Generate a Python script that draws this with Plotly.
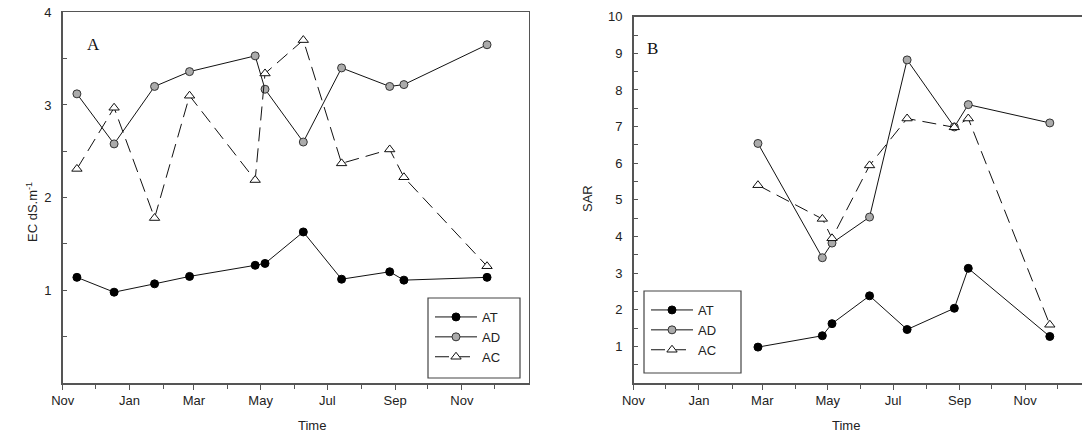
import plotly.graph_objects as go

W, H = 1082, 445

# ---------------- data ----------------
dates_a = ["2009-11-14", "2009-12-18", "2010-01-24", "2010-02-25", "2010-04-26", "2010-05-05",
           "2010-06-09", "2010-07-14", "2010-08-27", "2010-09-09", "2010-11-24"]
ec_at = [1.14, 0.98, 1.07, 1.15, 1.27, 1.29, 1.63, 1.12, 1.20, 1.11, 1.14]
ec_ad = [3.12, 2.58, 3.20, 3.36, 3.53, 3.17, 2.60, 3.40, 3.20, 3.22, 3.65]
ec_ac = [2.31, 2.97, 1.78, 3.10, 2.19, 3.34, 3.70, 2.37, 2.52, 2.22, 1.26]

dates_b = ["2010-02-25", "2010-04-26", "2010-05-05", "2010-06-09", "2010-07-14", "2010-08-27",
           "2010-09-09", "2010-11-24"]
sar_at = [0.98, 1.29, 1.62, 2.38, 1.46, 2.04, 3.13, 1.27]
sar_ad = [6.54, 3.42, 3.82, 4.53, 8.82, 6.99, 7.60, 7.10]
sar_ac = [5.40, 4.48, 3.95, 5.94, 7.22, 6.98, 7.22, 1.59]

series_names = ["AT", "AD", "AC"]
month_ticks = ["2009-11-01", "2010-01-01", "2010-03-01", "2010-05-01", "2010-07-01",
               "2010-09-01", "2010-11-01"]
month_labels = ["Nov", "Jan", "Mar", "May", "Jul", "Sep", "Nov"]
minor_month_ticks = ["2009-12-01", "2010-02-01", "2010-04-01", "2010-06-01", "2010-08-01",
                     "2010-10-01", "2010-12-01"]
ec_ticks = [1, 2, 3, 4]
sar_ticks = [1, 2, 3, 4, 5, 6, 7, 8, 9, 10]

# ---------------- helpers ----------------
def px(x):
    return x / W

def py(y):
    return (H - y) / H

FONT = "Liberation Sans, Arial, sans-serif"
styles = {
    "AT": dict(mode="lines+markers", line=dict(color="#111", width=1),
               marker=dict(symbol="circle", size=8, color="#000", line=dict(color="#000", width=1))),
    "AD": dict(mode="lines+markers", line=dict(color="#111", width=1),
               marker=dict(symbol="circle", size=8, color="#ababab", line=dict(color="#333", width=1))),
    "AC": dict(mode="lines+markers", line=dict(color="#111", width=1, dash="14px,7px"),
               marker=dict(symbol="triangle-up", size=9, color="#fff", line=dict(color="#111", width=1))),
}

fig = go.Figure()
for name, vals in zip(series_names, [ec_at, ec_ad, ec_ac]):
    fig.add_trace(go.Scatter(x=dates_a, y=vals, name=name, xaxis="x", yaxis="y",
                             legend="legend", **styles[name]))
for name, vals in zip(series_names, [sar_at, sar_ad, sar_ac]):
    fig.add_trace(go.Scatter(x=dates_b, y=vals, name=name, xaxis="x2", yaxis="y2",
                             legend="legend2", **styles[name]))

axcol = "#555"
xcommon = dict(type="date", tickmode="array", tickvals=month_ticks, ticktext=month_labels,
               ticks="outside", ticklen=5, tickcolor=axcol, showline=True, linecolor=axcol,
               linewidth=1.5, showgrid=False, zeroline=False, automargin=False,
               tickfont=dict(family=FONT, size=13, color="#222"),
               minor=dict(tickmode="array", tickvals=minor_month_ticks, ticks="outside",
                          ticklen=4, tickcolor=axcol, showgrid=False),
               fixedrange=True)
ycommon = dict(ticks="inside", ticklen=4, tickcolor=axcol, showline=True, linecolor=axcol,
               linewidth=1.5, showgrid=False, zeroline=False, automargin=False,
               ticklabelstandoff=7,
               tickfont=dict(family=FONT, size=13, color="#222"),
               minor=dict(tickmode="linear", tick0=0, dtick=0.5, ticks="inside", ticklen=4,
                          tickcolor=axcol, showgrid=False),
               fixedrange=True)

legend_common = dict(xanchor="left", yanchor="top", bgcolor="rgba(0,0,0,0)", borderwidth=0,
                     font=dict(family=FONT, size=13, color="#222"), tracegroupgap=0,
                     itemwidth=42)

fig.update_layout(
    width=W, height=H,
    margin=dict(l=0, r=0, t=0, b=0, pad=0),
    paper_bgcolor="white", plot_bgcolor="white",
    font=dict(family=FONT, size=13, color="#222"),
    hovermode=False,
    xaxis=dict(domain=[px(62.7), px(528.6)], range=["2009-11-01", "2011-01-01"],
               mirror=True, anchor="y", **xcommon),
    yaxis=dict(domain=[py(383), py(12.3)], range=[0, 4], tickmode="array", tickvals=ec_ticks,
               mirror=True, anchor="x", **ycommon),
    xaxis2=dict(domain=[px(633.5), 1.0], range=["2009-11-01", "2010-12-24"],
                mirror=True, anchor="y2", **xcommon),
    yaxis2=dict(domain=[py(383), py(16.7)], range=[0, 10], tickmode="array", tickvals=sar_ticks,
                mirror=False, anchor="x2", **ycommon),
    legend=dict(x=px(430), y=py(302), **legend_common),
    legend2=dict(x=px(646), y=py(295), **legend_common),
    shapes=[
        dict(type="rect", xref="paper", yref="paper", x0=px(428), x1=px(520), y0=py(378), y1=py(298),
             line=dict(color="#444", width=1.2), fillcolor="rgba(0,0,0,0)"),
        dict(type="rect", xref="paper", yref="paper", x0=px(644), x1=px(741), y0=py(373), y1=py(291),
             line=dict(color="#444", width=1.2), fillcolor="rgba(0,0,0,0)"),
    ],
    annotations=[
        dict(text="A", x=px(85), y=py(33), xref="paper", yref="paper", showarrow=False,
             font=dict(family="Liberation Serif, Times New Roman, serif", size=17, color="#111")),
        dict(text="B", x=px(652), y=py(37), xref="paper", yref="paper", showarrow=False,
             font=dict(family="Liberation Serif, Times New Roman, serif", size=17, color="#111")),
        dict(text="EC dS.m<sup>-1</sup>", x=px(22), y=py(212), xref="paper", yref="paper",
             showarrow=False, textangle=-90, font=dict(family=FONT, size=13, color="#222")),
        dict(text="SAR", x=px(587), y=py(199), xref="paper", yref="paper",
             showarrow=False, textangle=-90, font=dict(family=FONT, size=13, color="#222")),
        dict(text="Time", x=px(296), y=py(435), xref="paper", yref="paper",
             showarrow=False, font=dict(family=FONT, size=13, color="#222")),
        dict(text="Time", x=px(862), y=py(435), xref="paper", yref="paper",
             showarrow=False, font=dict(family=FONT, size=13, color="#222")),
    ],
)

fig.write_html("out.html", config={"displayModeBar": False, "staticPlot": True},
               post_script="document.body.style.margin='0';document.body.style.overflow='hidden';")
